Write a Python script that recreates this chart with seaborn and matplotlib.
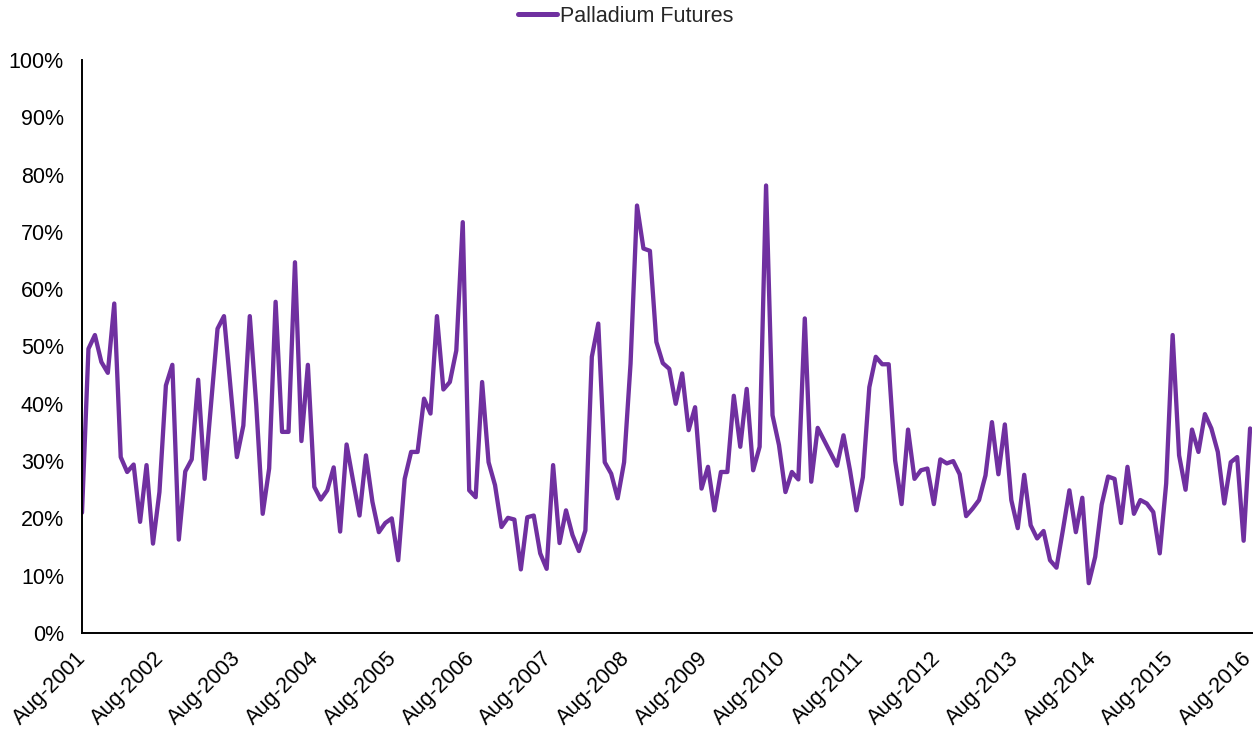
import numpy as np
import pandas as pd
import matplotlib
matplotlib.use("Agg")
import matplotlib.pyplot as plt
import matplotlib.dates as mdates
from matplotlib.ticker import PercentFormatter
import seaborn as sns

# monthly observations, Aug-2001 .. Aug-2016 (182 points)
start_date = "2001-07-28"
end_date = "2016-08-06"
n_points = 182

# volatility in percent
palladium = [
    21.0, 49.6, 52.0, 47.3, 45.4, 57.5, 30.7, 28.1, 29.4, 19.4,
    29.3, 15.6, 24.6, 43.2, 46.8, 16.3, 28.2, 30.3, 44.2, 26.9,
    40.0, 53.1, 55.3, 43.0, 30.7, 36.2, 55.3, 39.8, 20.8, 28.7,
    57.8, 35.1, 35.1, 64.7, 33.5, 46.8, 25.5, 23.3, 24.9, 28.9,
    17.7, 32.9, 26.6, 20.5, 31.0, 22.9, 17.6, 19.2, 20.0, 12.7,
    26.9, 31.6, 31.6, 40.9, 38.3, 55.3, 42.5, 43.8, 49.3, 71.7,
    24.9, 23.7, 43.8, 29.8, 25.8, 18.5, 20.1, 19.8, 11.1, 20.2,
    20.5, 13.9, 11.2, 29.3, 15.7, 21.4, 17.1, 14.3, 17.9, 48.2,
    54.0, 29.8, 27.8, 23.5, 29.8, 47.0, 74.6, 67.1, 66.7, 50.8,
    47.1, 46.1, 40.0, 45.3, 35.4, 39.4, 25.2, 29.0, 21.4, 28.1,
    28.1, 41.4, 32.5, 42.6, 28.4, 32.5, 78.1, 38.0, 32.8, 24.6,
    28.1, 26.8, 54.9, 26.4, 35.8, 33.6, 31.4, 29.2, 34.5, 28.4,
    21.4, 27.2, 42.9, 48.2, 46.9, 46.9, 30.1, 22.5, 35.5, 26.9,
    28.4, 28.7, 22.5, 30.3, 29.6, 30.0, 27.7, 20.4, 21.7, 23.2,
    27.5, 36.8, 27.7, 36.4, 23.2, 18.3, 27.6, 18.8, 16.5, 17.8,
    12.7, 11.4, 18.0, 24.9, 17.6, 23.6, 8.7, 13.3, 22.4, 27.3,
    26.9, 19.2, 29.0, 20.8, 23.2, 22.6, 21.1, 13.9, 26.1, 52.0,
    31.0, 25.0, 35.5, 31.6, 38.2, 35.7, 31.6, 22.6, 29.8, 30.7,
    16.1, 35.7,
]

series_name = "Palladium Futures"
line_color = "#7030A0"

df = pd.DataFrame({
    "date": pd.date_range(start_date, end_date, periods=n_points),
    "vol": np.array(palladium) / 100.0,
})

sns.set_style("white")
plt.rcParams["font.family"] = ["Liberation Sans", "DejaVu Sans"]

fig = plt.figure(figsize=(12.59, 7.33), dpi=100)
ax = fig.add_axes([82 / 1259, 1 - 633 / 733, 1170 / 1259, 573 / 733])

sns.lineplot(data=df, x="date", y="vol", ax=ax, color=line_color,
             linewidth=3.1, label=series_name, legend=False)

ax.set_ylim(0, 1)
ax.set_xlim(pd.Timestamp("2001-07-28"), pd.Timestamp("2016-08-15"))
ax.yaxis.set_major_locator(plt.MultipleLocator(0.1))
ax.yaxis.set_major_formatter(PercentFormatter(1.0, decimals=0))
ax.xaxis.set_major_locator(mdates.YearLocator(base=1, month=8, day=1))
ax.xaxis.set_major_formatter(mdates.DateFormatter("%b-%Y"))

ax.set_xlabel("")
ax.set_ylabel("")

for side in ["top", "right"]:
    ax.spines[side].set_visible(False)
for side in ["left", "bottom"]:
    ax.spines[side].set_color("black")
    ax.spines[side].set_linewidth(1.4)

ax.tick_params(axis="both", which="major", direction="out", length=5,
               width=1.3, color="black", labelsize=15.5, labelcolor="black")
ax.tick_params(axis="y", pad=8)
ax.tick_params(axis="x", pad=11)
for lbl in ax.get_xticklabels():
    lbl.set_rotation(45)
    lbl.set_ha("right")
    lbl.set_va("center")
    lbl.set_rotation_mode("anchor")

handles, labels = ax.get_legend_handles_labels()
if not handles:
    handles = ax.get_lines()[:1]
    labels = [series_name]
leg = fig.legend(handles, labels, loc="center", bbox_to_anchor=(0.497, 1 - 16 / 733),
                 frameon=False, fontsize=15.5, handlelength=1.8, handletextpad=0.15)
for h in leg.get_lines():
    h.set_linewidth(3.6)

fig.savefig("out.png", dpi=100)
